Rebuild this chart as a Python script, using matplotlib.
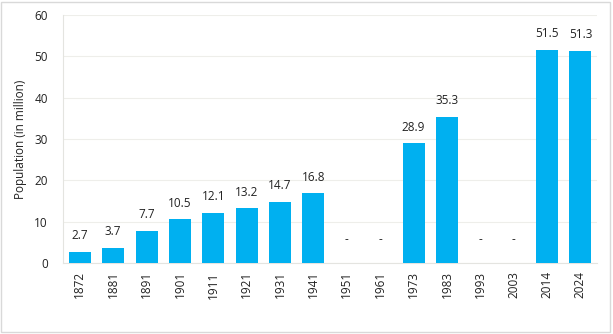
import matplotlib
matplotlib.use('Agg')
import matplotlib.pyplot as plt
import numpy as np

years = ['1872', '1881', '1891', '1901', '1911', '1921', '1931', '1941',
         '1951', '1961', '1973', '1983', '1993', '2003', '2014', '2024']
population = [2.7, 3.7, 7.7, 10.5, 12.1, 13.2, 14.7, 16.8,
              None, None, 28.9, 35.3, None, None, 51.5, 51.3]

plt.rcParams['font.family'] = ['Open Sans', 'DejaVu Sans']

fig = plt.figure(figsize=(6.13, 3.34), dpi=100)
ax = fig.add_axes([0.103, 0.213, 0.871, 0.742])

xs = np.arange(len(years))
heights = [v if v is not None else 0 for v in population]
ax.bar(xs, heights, width=0.66, color='#00B0F0', zorder=3)

for x, v in zip(xs, population):
    if v is None:
        ax.annotate('-', (x, 0), xytext=(0, 12), textcoords='offset points',
                    ha='center', va='bottom', fontsize=8.5, color='#222222')
    else:
        ax.annotate(f'{v}', (x, v), xytext=(0, 7), textcoords='offset points',
                    ha='center', va='bottom', fontsize=8.5, color='#222222')

ax.set_xlim(-0.5, len(years) - 0.5)
ax.set_ylim(0, 60)
ax.set_yticks(range(0, 61, 10))
ax.set_xticks(xs)
ax.set_xticklabels(years, rotation=90, fontsize=8.5, color='#222222')
ax.tick_params(axis='y', labelsize=8.5, labelcolor='#222222', length=0, pad=11)
ax.tick_params(axis='x', length=0, pad=6)
ax.set_ylabel('Population (in million)', fontsize=8.5, color='#222222', labelpad=5)

ax.grid(axis='y', color='#eeeeea', linewidth=0.8, zorder=0)
for side in ['top', 'right']:
    ax.spines[side].set_visible(False)
for side in ['left', 'bottom']:
    ax.spines[side].set_color('#e4e4e0')
    ax.spines[side].set_linewidth(0.8)

fig.patches.append(plt.Rectangle((0.001, 0.005), 0.994, 0.99, transform=fig.transFigure,
                                 fill=False, edgecolor='#d9d9d9', linewidth=1))

plt.savefig('out.png', dpi=100)
